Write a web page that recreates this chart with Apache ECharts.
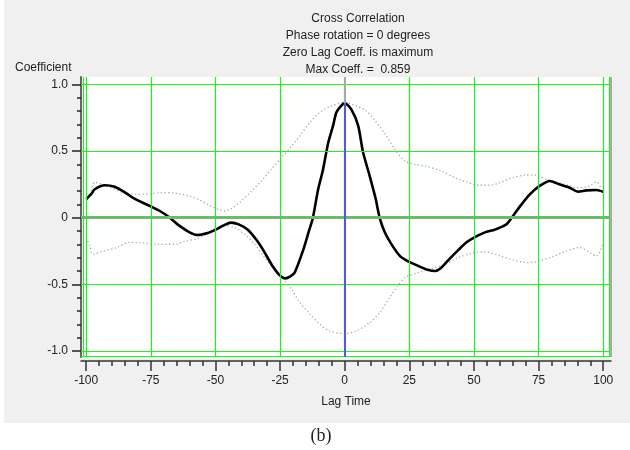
<!DOCTYPE html>
<html>
<head>
<meta charset="utf-8">
<script src="https://cdn.jsdelivr.net/npm/echarts@6/dist/echarts.min.js"></script>
<style>html,body{margin:0;padding:0;background:#fff;}#c{width:630px;height:450px;}</style>
</head>
<body>
<div id="c"></div>
<script>
// ---- data ----
var titleLines = ['Cross Correlation', 'Phase rotation = 0 degrees', 'Zero Lag Coeff. is maximum', 'Max Coeff. =  0.859'];
var maxCoeff = 0.859;

var lagMain = [-100, -98, -96.7, -92.8, -89, -85, -82, -79, -75, -71.5, -68, -64, -60, -57, -53, -50, -47, -44, -41, -37.5, -34, -31, -28, -25, -23, -21, -19.3, -16, -14, -12.3, -10.3, -8.4, -6.4, -4.5, -3.2, -1.3, 0, 2.6, 5.2, 7.1, 9.7, 12, 13.5, 15.5, 18.1, 21.5, 25, 29, 32, 35, 37, 40, 44, 47, 50, 54, 58, 60, 62.6, 65.1, 68.4, 71.6, 75.4, 79.3, 83, 87, 90.3, 93.5, 97.4, 100.2];
var coefMain = [0.138, 0.178, 0.213, 0.243, 0.232, 0.19, 0.15, 0.12, 0.085, 0.05, 0.005, -0.06, -0.11, -0.13, -0.115, -0.09, -0.06, -0.037, -0.05, -0.09, -0.17, -0.26, -0.36, -0.435, -0.455, -0.44, -0.41, -0.24, -0.11, 0, 0.21, 0.36, 0.56, 0.69, 0.79, 0.84, 0.859, 0.81, 0.69, 0.49, 0.31, 0.14, 0, -0.11, -0.2, -0.29, -0.332, -0.367, -0.39, -0.4, -0.382, -0.32, -0.242, -0.187, -0.15, -0.112, -0.09, -0.075, -0.05, 0.013, 0.1, 0.175, 0.238, 0.275, 0.25, 0.225, 0.195, 0.205, 0.208, 0.193];

var lagUpper = [-98, -96.7, -92, -86, -80.6, -75, -71.6, -65, -60, -56.7, -53, -49, -46.4, -43.8, -40, -36, -32.2, -28.4, -24.5, -20.6, -17.4, -13.5, -9.7, -5.8, -1.9, 0.4, 4.5, 8.4, 12.3, 16.1, 19.5, 23.2, 27, 32, 37.4, 42.6, 47.7, 51.6, 56.7, 60, 65, 70.3, 74.2, 78, 82, 86, 90, 93.5, 97.4, 99.3];
var upperBound = [0.2, 0.265, 0.238, 0.19, 0.175, 0.18, 0.188, 0.183, 0.16, 0.138, 0.1, 0.063, 0.05, 0.068, 0.125, 0.2, 0.275, 0.363, 0.45, 0.535, 0.613, 0.713, 0.788, 0.833, 0.858, 0.863, 0.838, 0.8, 0.713, 0.613, 0.51, 0.425, 0.4, 0.383, 0.35, 0.3, 0.263, 0.243, 0.245, 0.262, 0.3, 0.32, 0.318, 0.288, 0.265, 0.245, 0.225, 0.228, 0.268, 0.213];

var lagLower = [-100, -98.6, -97.3, -93.4, -88.3, -83.2, -78, -71.6, -65, -62, -56.7, -51.6, -46.4, -42.6, -38.7, -34.8, -30.9, -27.1, -23.2, -20.5, -17.4, -13.5, -9.7, -5.8, 0, 4.5, 9.7, 13.5, 17.4, 20, 23.2, 28.4, 33.5, 38.7, 43.9, 49, 54.2, 59.4, 65.1, 70.3, 74.2, 79.3, 85.8, 90.9, 94.8, 97.4, 100];
var lowerBound = [-0.15, -0.212, -0.275, -0.25, -0.225, -0.185, -0.19, -0.2, -0.197, -0.178, -0.155, -0.1, -0.057, -0.075, -0.125, -0.2, -0.3, -0.387, -0.475, -0.54, -0.635, -0.722, -0.797, -0.85, -0.87, -0.85, -0.787, -0.712, -0.6, -0.525, -0.45, -0.412, -0.382, -0.35, -0.3, -0.267, -0.257, -0.282, -0.317, -0.337, -0.33, -0.3, -0.25, -0.225, -0.262, -0.287, -0.185];

var xMajorTicks = [-100, -75, -50, -25, 0, 25, 50, 75, 100];
var xMinorTicks = [-95, -90, -85, -80, -70, -65, -60, -55, -45, -40, -35, -30, -20, -15, -10, -5, 5, 10, 15, 20, 30, 35, 40, 45, 55, 60, 65, 70, 80, 85, 90, 95];
var yMajorTicks = [-1, -0.5, 0, 0.5, 1];
var yTickLabels = ['-1.0', '-0.5', '0', '0.5', '1.0'];
var yMinorTicks = [-0.9, -0.8, -0.7, -0.6, -0.4, -0.3, -0.2, -0.1, 0.1, 0.2, 0.3, 0.4, 0.6, 0.7, 0.8, 0.9];

// ---- chart ----
var FONT = 'Liberation Sans';
var GREEN = '#22ee22';
var X_MIN = -102, X_MAX = 103, Y_MIN = -1.045, Y_MAX = 1.055;

function pairs(xs, ys) { return xs.map(function (x, i) { return [x, ys[i]]; }); }

var chart = echarts.init(document.getElementById('c'), null, { renderer: 'canvas' });

var option = {
  animation: false,
  backgroundColor: '#ffffff',
  graphic: [{
    type: 'rect', z: -100, silent: true,
    shape: { x: 4, y: 0, width: 626, height: 423 },
    style: { fill: '#f0f0f0' }
  }],
  title: [
    {
      text: titleLines.join('\n'), left: 358, top: 10, padding: 0, textAlign: 'center',
      textStyle: { fontFamily: FONT, fontSize: 12, fontWeight: 'normal', color: '#222', lineHeight: 17 }
    },
    {
      text: 'Coefficient', left: 15, top: 62, padding: 0,
      textStyle: { fontFamily: FONT, fontSize: 12, fontWeight: 'normal', color: '#222' }
    },
    {
      text: '(b)', left: 321, top: 427, padding: 0, textAlign: 'center',
      textStyle: { fontFamily: 'Liberation Serif', fontSize: 18, fontWeight: 'normal', color: '#222' }
    }
  ],
  grid: { left: 81, top: 77, width: 530, height: 280, show: true, backgroundColor: '#ffffff', borderWidth: 0 },
  xAxis: [
    {
      type: 'value', min: X_MIN, max: X_MAX, position: 'bottom', offset: 4,
      axisLine: { show: true, onZero: false, lineStyle: { color: '#333', width: 1.5 } },
      axisTick: { show: true, customValues: xMajorTicks, length: 10, lineStyle: { color: '#333', width: 1.5 } },
      axisLabel: { customValues: xMajorTicks, margin: 14, fontFamily: FONT, fontSize: 12, color: '#222' },
      splitLine: { show: false },
      name: 'Lag Time', nameLocation: 'middle', nameGap: 35,
      nameTextStyle: { fontFamily: FONT, fontSize: 12, color: '#222' }
    },
    {
      type: 'value', min: X_MIN, max: X_MAX, position: 'bottom', offset: 4,
      axisLine: { show: false, onZero: false },
      axisTick: { show: true, customValues: xMinorTicks, length: 5, lineStyle: { color: '#333', width: 1.5 } },
      axisLabel: { show: false },
      splitLine: { show: false }
    }
  ],
  yAxis: [
    {
      type: 'value', min: Y_MIN, max: Y_MAX, position: 'left', offset: 0,
      axisLine: { show: true, onZero: false, lineStyle: { color: '#666', width: 2 } },
      axisTick: { show: true, customValues: yMajorTicks, length: 9, lineStyle: { color: '#222', width: 1.5 } },
      axisLabel: {
        customValues: yMajorTicks, margin: 13, fontFamily: FONT, fontSize: 12, color: '#222',
        formatter: function (v) { var i = yMajorTicks.indexOf(v); return i >= 0 ? yTickLabels[i] : ''; }
      },
      splitLine: { show: false }
    },
    {
      type: 'value', min: Y_MIN, max: Y_MAX, position: 'left', offset: 0,
      axisLine: { show: false, onZero: false },
      axisTick: { show: true, customValues: yMinorTicks, length: 4, lineStyle: { color: '#222', width: 1.5 } },
      axisLabel: { show: false },
      splitLine: { show: false }
    }
  ],
  series: [
    {
      name: 'grid', type: 'line', data: [], z: 1, silent: true,
      markLine: {
        silent: true, symbol: 'none', label: { show: false }, animation: false,
        lineStyle: { color: GREEN, type: 'solid', width: 1.2 },
        data: xMajorTicks.map(function (v) { return { xAxis: v }; })
          .concat(yMajorTicks.map(function (v) { return { yAxis: v === 0 ? 0.008 : v }; }))
          .concat([{ xAxis: -101.1 }, { xAxis: 102.5 }, { yAxis: -1.037 }])
      }
    },
    {
      name: 'zero', type: 'line', data: [], z: 2, silent: true,
      markLine: {
        silent: true, symbol: 'none', label: { show: false }, animation: false,
        data: [
          { yAxis: -0.004, lineStyle: { color: '#9a9a9a', width: 2, type: 'solid' } },
          { xAxis: 0, lineStyle: { color: '#a8a8a8', width: 2, type: 'solid' } },
          { xAxis: X_MAX, lineStyle: { color: '#aaaaaa', width: 2, type: 'solid' } },
          [{ coord: [0, maxCoeff], lineStyle: { color: '#3a3aff', width: 1.5, type: 'solid' } }, { coord: [0, Y_MIN] }]
        ]
      }
    },
    {
      name: 'upper', type: 'line', z: 3, showSymbol: false, smooth: 0.3, silent: true,
      data: pairs(lagUpper, upperBound),
      lineStyle: { color: '#aaaaaa', width: 1.3, type: [1.3, 2.4] }
    },
    {
      name: 'lower', type: 'line', z: 3, showSymbol: false, smooth: 0.3, silent: true,
      data: pairs(lagLower, lowerBound),
      lineStyle: { color: '#aaaaaa', width: 1.3, type: [1.3, 2.4] }
    },
    {
      name: 'coef', type: 'line', z: 4, showSymbol: false, smooth: 0.25, silent: true,
      data: pairs(lagMain, coefMain),
      lineStyle: { color: '#000000', width: 2.6 }
    }
  ]
};
chart.setOption(option);
</script>
</body>
</html>
